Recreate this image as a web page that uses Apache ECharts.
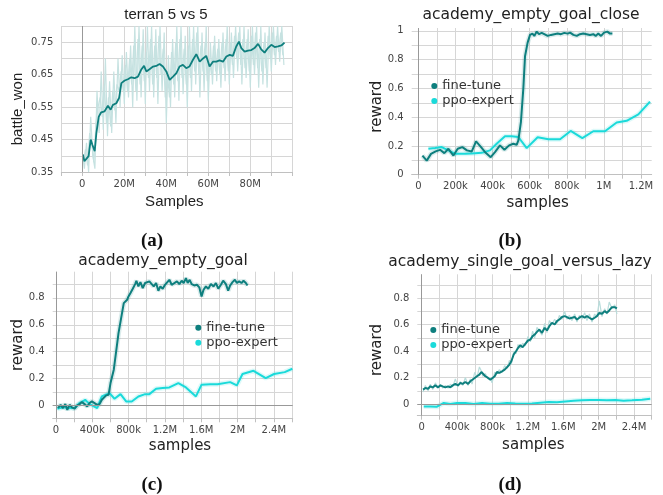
<!DOCTYPE html>
<html><head><meta charset="utf-8">
<script src="https://cdn.jsdelivr.net/npm/echarts@6/dist/echarts.min.js"></script>
<style>html,body{margin:0;padding:0;background:#fff}#c{width:663px;height:495px}</style>
</head><body><div id="c"></div>
<script>
// ---------- Panel (a): terran 5 vs 5 (x in millions of samples) ----------
const aFineX = [0.3,1,1.9,3,4,4.8,5.9,6.7,7.8,9,10.6,12.2,13.5,14.6,16.2,17.5,18.6,20.2,21.7,23.3,24.9,26.5,28,29.4,30.5,32,33.7,35.2,36.8,38.4,40,41.6,43.2,44.8,46.3,47.9,49.5,51,52.7,54.3,55.9,57.5,59,60.6,62.2,63.8,65.4,67,68.6,70.2,71.7,73.3,74.6,75.7,77.3,78.9,80.5,82,83.7,85.2,86.8,88.4,90,91.6,93.2,94.8,96.3];
const aFineY = [.404,.383,.378,.399,.45,.434,.414,.47,.52,.534,.537,.554,.542,.557,.562,.578,.624,.632,.636,.642,.639,.644,.665,.677,.66,.667,.675,.677,.683,.675,.66,.634,.644,.655,.675,.68,.67,.675,.696,.713,.69,.70,.708,.675,.69,.69,.694,.69,.706,.711,.708,.737,.752,.732,.721,.724,.726,.732,.745,.728,.718,.732,.742,.735,.737,.74,.749];
const aRawX = [0,1,2,3,4,5,6,7,8,9,10,11,12,13,14,15,16,17,18,19,20,21,22,23,24,25,26,27,28,29,30,31,32,33,34,35,36,37,38,39,40,41,42,43,44,45,46,47,48,49,50,51,52,53,54,55,56,57,58,59,60,61,62,63,64,65,66,67,68,69,70,71,72,73,74,75,76,77,78,79,80,81,82,83,84,85,86,87,88,89,90,91,92,93,94,95,96];
const aRawY = [.41,.36,.44,.35,.52,.40,.36,.60,.47,.66,.48,.70,.46,.63,.47,.66,.50,.70,.55,.71,.56,.72,.58,.74,.55,.80,.57,.80,.58,.79,.56,.80,.60,.80,.58,.79,.56,.80,.60,.78,.50,.71,.55,.76,.58,.80,.57,.80,.59,.77,.55,.80,.60,.80,.62,.80,.58,.78,.60,.80,.57,.75,.62,.77,.63,.76,.61,.78,.63,.80,.62,.78,.64,.80,.66,.80,.62,.80,.64,.79,.61,.80,.65,.80,.61,.80,.62,.78,.61,.80,.66,.80,.68,.80,.69,.80,.68];
const aRaw2X = [0.5,1.5,2.5,3.5,4.5,5.5,6.5,7.5,8.5,9.5,10.5,11.5,12.5,13.5,14.5,15.5,16.5,17.5,18.5,19.5,20.5,21.5,22.5,23.5,24.5,25.5,26.5,27.5,28.5,29.5,30.5,31.5,32.5,33.5,34.5,35.5,36.5,37.5,38.5,39.5,40.5,41.5,42.5,43.5,44.5,45.5,46.5,47.5,48.5,49.5,50.5,51.5,52.5,53.5,54.5,55.5,56.5,57.5,58.5,59.5,60.5,61.5,62.5,63.5,64.5,65.5,66.5,67.5,68.5,69.5,70.5,71.5,72.5,73.5,74.5,75.5,76.5,77.5,78.5,79.5,80.5,81.5,82.5,83.5,84.5,85.5,86.5,87.5,88.5,89.5,90.5,91.5,92.5,93.5,94.5,95.5];
const aRaw2Y = [.38,.42,.37,.47,.44,.38,.50,.55,.58,.52,.62,.50,.58,.49,.60,.54,.62,.60,.66,.60,.68,.60,.70,.62,.74,.60,.76,.62,.74,.63,.72,.64,.76,.62,.74,.64,.77,.65,.73,.58,.66,.58,.72,.62,.75,.63,.76,.64,.73,.62,.74,.64,.76,.66,.78,.65,.74,.66,.75,.63,.70,.65,.74,.66,.73,.65,.75,.67,.76,.66,.75,.68,.77,.70,.78,.68,.76,.67,.76,.66,.77,.68,.78,.67,.76,.66,.75,.67,.77,.70,.78,.71,.77,.72,.78,.71];
const aXTicks = [-10,0,10,20,30,40,50,60,70,80,90,100];
const aXLabels = [0,20,40,60,80];
const aYTicks = [0.35,0.40,0.45,0.50,0.55,0.60,0.65,0.70,0.75,0.80];
const aYLabels = [0.35,0.45,0.55,0.65,0.75];

// ---------- Panel (b): academy_empty_goal_close (x in thousands) ----------
const bFineX = [22,45,68,93,117,140,162,189,212,237,262,288,311,338,363,390,413,440,464,489,512,530,539,553,566,575,589,602,615,625,638,650,665,679,697,715,733,751,769,787,805,818,836,854,871,889,907,925,943,956,970,985,1001,1019,1033,1046];
const bFineY = [.133,.098,.145,.162,.173,.15,.18,.133,.18,.192,.169,.162,.232,.192,.152,.122,.157,.204,.173,.204,.215,.208,.239,.368,.602,.824,.918,.972,.981,.965,.995,.977,.986,.977,.965,.972,.977,.981,.977,.986,.981,.988,.972,.965,.977,.981,.977,.972,.977,.965,.981,.965,.988,.995,.981,.981];
const bPpoX = [54,90,126,162,198,252,288,341,386,422,467,503,539,584,643,701,764,821,884,943,1006,1069,1123,1186,1249];
const bPpoY = [.18,.185,.192,.169,.145,.145,.148,.152,.169,.215,.267,.267,.262,.185,.26,.246,.246,.304,.255,.302,.302,.363,.375,.419,.508];
const bXTicks = [0,100,200,300,400,500,600,700,800,900,1000,1100,1200];
const bXLabels = [0,200,400,600,800,1000,1200];
const bYTicks = [0,0.1,0.2,0.3,0.4,0.5,0.6,0.7,0.8,0.9,1.0];
const bYLabels = [0,0.2,0.4,0.6,0.8,1];

// ---------- Panel (c): academy_empty_goal (x in thousands) ----------
const cFineX = [22,51,77,103,125,150,176,205,234,260,286,315,344,370,396,425,454,480,505,527,553,579,601,619,637,663,689,718,747,766,784,799,821,846,872,886,908,930,956,982,1004,1029,1055,1077,1103,1128,1150,1176,1201,1223,1249,1275,1304,1333,1359,1385,1407,1432,1451,1473,1495,1524,1553,1579,1604,1626,1652,1678,1707,1736,1762,1788,1817,1842,1872,1897,1919,1945,1971,1993,2018,2044,2066,2092,2110];
const cFineY = [-.017,.007,-.017,.012,-.03,.007,-.012,-.022,.002,.012,.027,.012,-.005,.02,.032,.02,.007,.012,.044,.037,.077,.081,.168,.168,.267,.402,.538,.649,.76,.773,.785,.81,.835,.867,.901,.926,.884,.916,.872,.909,.896,.921,.901,.884,.909,.852,.884,.867,.896,.909,.933,.896,.909,.921,.901,.926,.909,.946,.909,.933,.901,.891,.896,.877,.81,.859,.884,.867,.901,.884,.909,.867,.896,.926,.901,.852,.891,.916,.933,.909,.921,.909,.926,.909,.891];
const cPpoX = [15,77,150,205,260,322,370,454,505,590,645,711,773,835,908,982,1029,1103,1176,1249,1348,1432,1542,1604,1700,1780,1919,1993,2055,2176,2311,2403,2520,2604];
const cPpoY = [-.022,-.012,-.017,-.017,.02,.044,.012,-.017,.069,.094,.052,.086,.032,.032,.069,.086,.086,.126,.131,.136,.168,.136,.069,.156,.16,.16,.175,.151,.235,.259,.205,.235,.249,.274];
const cdXTicks = [0,200,400,600,800,1000,1200,1400,1600,1800,2000,2200,2400,2600];
const cdXLabels = [0,400,800,1200,1600,2000,2400];
const cdYTicks = [0,0.1,0.2,0.3,0.4,0.5,0.6,0.7,0.8,0.9];
const cdYLabels = [0,0.2,0.4,0.6,0.8];

// ---------- Panel (d): academy_single_goal_versus_lazy (x in thousands) ----------
const dFineX = [15,41,72,98,124,154,185,211,237,267,298,324,350,380,410,437,463,493,524,550,569,599,625,652,674,689,719,750,776,795,825,851,878,908,938,964,991,1013,1040,1066,1089,1115,1141,1171,1202,1228,1254,1277,1303,1330,1360,1390,1416,1443,1473,1503,1529,1556,1586,1616,1642,1669,1699,1729,1755,1782,1812,1842,1868,1895,1925,1955,1981,2008,2038,2068,2094,2120,2151,2181,2207];
const dFineY = [.109,.121,.116,.134,.126,.141,.126,.141,.134,.126,.134,.126,.141,.152,.141,.159,.152,.167,.152,.172,.159,.197,.21,.222,.242,.227,.21,.197,.184,.177,.21,.242,.235,.247,.26,.278,.298,.323,.374,.399,.424,.444,.429,.455,.48,.487,.513,.525,.545,.563,.538,.576,.556,.588,.614,.601,.626,.639,.657,.664,.657,.646,.652,.657,.639,.652,.664,.652,.664,.652,.639,.652,.664,.689,.682,.702,.689,.707,.732,.732,.722];
const dFineRawY = [.09,.14,.10,.15,.11,.16,.12,.15,.12,.14,.12,.15,.13,.19,.13,.17,.14,.20,.14,.19,.15,.24,.20,.28,.25,.21,.23,.19,.20,.16,.24,.23,.26,.24,.29,.27,.33,.30,.40,.38,.45,.42,.46,.44,.51,.47,.55,.50,.58,.55,.52,.61,.54,.63,.60,.64,.61,.67,.64,.70,.64,.67,.63,.68,.62,.67,.64,.69,.63,.68,.62,.68,.66,.78,.66,.72,.68,.77,.72,.75,.68];
const dPpoX = [23,98,173,249,324,399,493,588,682,776,870,964,1058,1153,1247,1341,1435,1529,1623,1718,1812,1906,2000,2094,2188,2283,2377,2490,2584];
const dPpoY = [-.018,-.018,-.02,.008,0,.008,.008,0,.008,.003,.003,.008,.005,.003,.005,.01,.015,.013,.02,.025,.028,.03,.03,.028,.03,.025,.028,.033,.04];

const seriesNames = ['fine-tune','ppo-expert'];

// ---------- styling ----------
const TEAL = '#0e7f7e', CYAN = '#1adada', BAND = '#c6e2e1';
const GRID_C = '#d6d6d6', AXIS_C = '#c0c0c0', ZERO_C = '#999', LBL_C = '#444';
const K = 1000, M = 1e6;

function pairs(xs, ys, s){ return xs.map((x,i)=>[x*s, ys[i]]); }
function fmtSamples(v){ if(v===0) return '0'; if(Math.abs(v)>=M) return (v/M)+'M'; return (v/K)+'k'; }
function xAx(g, min, max, ticks, labels, fmt){
  return {gridIndex:g, type:'value', min:min, max:max,
    axisLine:{show:true, onZero:false, lineStyle:{color:AXIS_C}},
    axisTick:{show:true, length:4, customValues:ticks, lineStyle:{color:AXIS_C}},
    axisLabel:{customValues:labels, formatter:fmt, margin:7, color:LBL_C, fontFamily:'DejaVu Sans', fontSize:10},
    splitLine:{show:true, lineStyle:{color:GRID_C, width:1}}};
}
function yAx(g, min, max, ticks, labels, fmt){
  return {gridIndex:g, type:'value', min:min, max:max,
    axisLine:{show:false},
    axisTick:{show:false, customValues:ticks},
    axisLabel:{customValues:labels, formatter:fmt, margin:8, color:LBL_C, fontFamily:'DejaVu Sans', fontSize:10},
    splitLine:{show:true, lineStyle:{color:GRID_C, width:1}}};
}
function zeroLines(vert, horiz){
  const d=[]; if(vert) d.push({xAxis:0}); if(horiz) d.push({yAxis:0});
  return {silent:true, symbol:['none','none'], label:{show:false}, animation:false,
    lineStyle:{color:ZERO_C, type:'solid', width:1}, data:d};
}
function line(name, g, data, color, width, extra){
  return Object.assign({name:name, type:'line', xAxisIndex:g, yAxisIndex:g, data:data,
    showSymbol:false, symbol:'none', animation:false, silent:true,
    lineStyle:{color:color, width:width}, itemStyle:{color:color}}, extra||{});
}
function halo(name, g, data, color){
  return line(name, g, data, color, 5, {lineStyle:{color:color, width:5, opacity:0.15}});
}

const option = {
  animation:false,
  backgroundColor:'#fff',
  grid:[
    {left:61.3, top:26, width:231, height:146},
    {left:411.7, top:28, width:240, height:146.7},
    {left:52.7, top:271.7, width:240, height:146.6},
    {left:417.3, top:274.3, width:234.4, height:141.4}
  ],
  xAxis:[
    xAx(0, -10*M, 100*M, aXTicks.map(v=>v*M), aXLabels.map(v=>v*M), v=> v===0?'0':(v/M)+'M'),
    xAx(1, -36*K, 1258*K, bXTicks.map(v=>v*K), bXLabels.map(v=>v*K), fmtSamples),
    xAx(2, -36*K, 2608*K, cdXTicks.map(v=>v*K), cdXLabels.map(v=>v*K), fmtSamples),
    xAx(3, -50*K, 2600*K, cdXTicks.map(v=>v*K), cdXLabels.map(v=>v*K), fmtSamples)
  ],
  yAxis:[
    yAx(0, 0.35, 0.80, aYTicks, aYLabels, v=>v.toFixed(2)),
    yAx(1, 0, 1.02, bYTicks, bYLabels, v=>String(v)),
    yAx(2, -0.093, 0.993, cdYTicks, cdYLabels, v=>String(v)),
    yAx(3, -0.088, 0.98, cdYTicks, cdYLabels, v=>String(v))
  ],
  legend:[
    {left:426.3, top:74.5, orient:'vertical', itemGap:2, itemWidth:6, itemHeight:6, icon:'circle',
      data:seriesNames, textStyle:{fontFamily:'DejaVu Sans', fontSize:13, color:'#333'}, selectedMode:false},
    {left:190.3, top:316.2, orient:'vertical', itemGap:2, itemWidth:6, itemHeight:6, icon:'circle',
      data:seriesNames, textStyle:{fontFamily:'DejaVu Sans', fontSize:13, color:'#333'}, selectedMode:false},
    {left:425.3, top:318.5, orient:'vertical', itemGap:2, itemWidth:6, itemHeight:6, icon:'circle',
      data:seriesNames, textStyle:{fontFamily:'DejaVu Sans', fontSize:13, color:'#333'}, selectedMode:false}
  ],
  series:[
    // (a)
    line('a-raw', 0, pairs(aRawX, aRawY, M), BAND, 1.2, {markLine: zeroLines(true,false)}),
    line('a-raw2', 0, pairs(aRaw2X, aRaw2Y, M), BAND, 1.2),
    line('a-smooth', 0, pairs(aFineX, aFineY, M), TEAL, 1.8),
    // (b)
    halo('b-ppo-halo', 1, pairs(bPpoX, bPpoY, K), CYAN),
    halo('b-fine-halo', 1, pairs(bFineX, bFineY, K), TEAL),
    line('ppo-expert', 1, pairs(bPpoX, bPpoY, K), CYAN, 2, {markLine: zeroLines(true,false)}),
    line('fine-tune', 1, pairs(bFineX, bFineY, K), TEAL, 2),
    // (c)
    halo('c-ppo-halo', 2, pairs(cPpoX, cPpoY, K), CYAN),
    halo('c-fine-halo', 2, pairs(cFineX, cFineY, K), TEAL),
    line('ppo-expert', 2, pairs(cPpoX, cPpoY, K), CYAN, 2, {markLine: zeroLines(true,true)}),
    line('fine-tune', 2, pairs(cFineX, cFineY, K), TEAL, 2),
    // (d)
    line('d-fine-raw', 3, pairs(dFineX, dFineRawY, K), '#b9dcdb', 1.2),
    halo('d-ppo-halo', 3, pairs(dPpoX, dPpoY, K), CYAN),
    line('ppo-expert', 3, pairs(dPpoX, dPpoY, K), CYAN, 2, {markLine: zeroLines(true,true)}),
    line('fine-tune', 3, pairs(dFineX, dFineY, K), TEAL, 2)
  ],
  graphic:[
    {type:'text', x:166, y:15, style:{text:'terran 5 vs 5', font:'15px "Liberation Sans"', fill:'#222', align:'center', verticalAlign:'middle'}},
    {type:'text', x:18, y:109, rotation:Math.PI/2, style:{text:'battle_won', font:'15px "Liberation Sans"', fill:'#222', align:'center', verticalAlign:'middle'}},
    {type:'text', x:174.3, y:202, style:{text:'Samples', font:'15px "Liberation Sans"', fill:'#222', align:'center', verticalAlign:'middle'}},

    {type:'text', x:531, y:15, style:{text:'academy_empty_goal_close', font:'15.5px "DejaVu Sans"', fill:'#222', align:'center', verticalAlign:'middle'}},
    {type:'text', x:377, y:106.7, rotation:Math.PI/2, style:{text:'reward', font:'15px "DejaVu Sans"', fill:'#222', align:'center', verticalAlign:'middle'}},
    {type:'text', x:537.7, y:203.3, style:{text:'samples', font:'15px "DejaVu Sans"', fill:'#222', align:'center', verticalAlign:'middle'}},

    {type:'text', x:163, y:261, style:{text:'academy_empty_goal', font:'15.5px "DejaVu Sans"', fill:'#222', align:'center', verticalAlign:'middle'}},
    {type:'text', x:18.3, y:345, rotation:Math.PI/2, style:{text:'reward', font:'15px "DejaVu Sans"', fill:'#222', align:'center', verticalAlign:'middle'}},
    {type:'text', x:180, y:445.7, style:{text:'samples', font:'15px "DejaVu Sans"', fill:'#222', align:'center', verticalAlign:'middle'}},

    {type:'text', x:520, y:261.7, style:{text:'academy_single_goal_versus_lazy', font:'15.5px "DejaVu Sans"', fill:'#222', align:'center', verticalAlign:'middle'}},
    {type:'text', x:377, y:350, rotation:Math.PI/2, style:{text:'reward', font:'15px "DejaVu Sans"', fill:'#222', align:'center', verticalAlign:'middle'}},
    {type:'text', x:533.3, y:445, style:{text:'samples', font:'15px "DejaVu Sans"', fill:'#222', align:'center', verticalAlign:'middle'}},

    {type:'text', x:152, y:241, style:{text:'(a)', font:'bold 19px "Liberation Serif"', fill:'#111', align:'center', verticalAlign:'middle'}},
    {type:'text', x:510, y:241, style:{text:'(b)', font:'bold 19px "Liberation Serif"', fill:'#111', align:'center', verticalAlign:'middle'}},
    {type:'text', x:152, y:485, style:{text:'(c)', font:'bold 19px "Liberation Serif"', fill:'#111', align:'center', verticalAlign:'middle'}},
    {type:'text', x:510, y:485, style:{text:'(d)', font:'bold 19px "Liberation Serif"', fill:'#111', align:'center', verticalAlign:'middle'}}
  ]
};
const chart = echarts.init(document.getElementById('c'), null, {renderer:'canvas'});
chart.setOption(option);
</script></body></html>
